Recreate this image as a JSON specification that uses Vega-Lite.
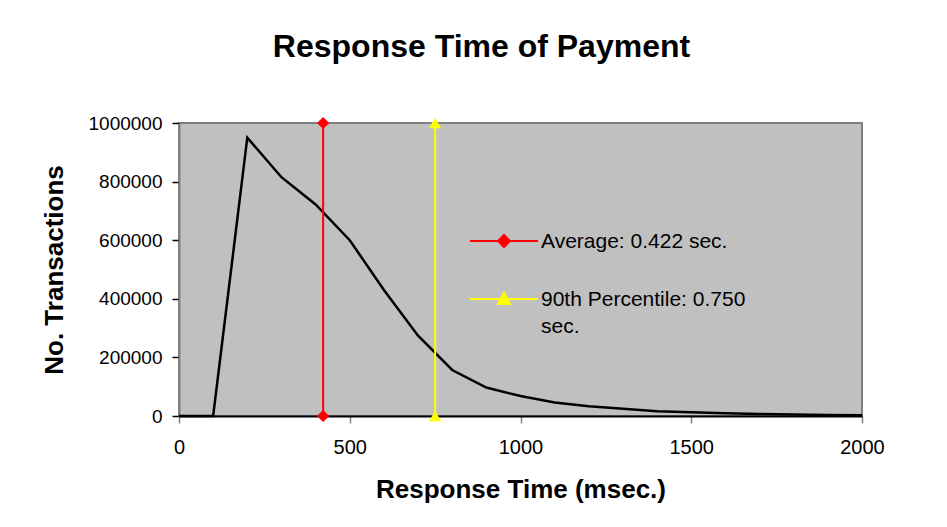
{
  "$schema": "https://vega.github.io/schema/vega-lite/v6.json",
  "width": 683,
  "height": 293,
  "autosize": {"type": "none"},
  "padding": {"left": 179, "top": 123, "right": 85, "bottom": 111},
  "background": "white",
  "title": {
    "text": "Response Time of Payment",
    "font": "Liberation Sans",
    "fontSize": 32,
    "fontWeight": "bold",
    "color": "black",
    "anchor": "middle",
    "dx": -39,
    "offset": 50
  },
  "config": {
    "view": {"fill": "#C0C0C0", "stroke": "#808080", "strokeWidth": 2},
    "font": "Liberation Sans"
  },
  "datasets": {
    "curve": [
      {"ms": 0, "tx": 0},
      {"ms": 100, "tx": 0},
      {"ms": 200, "tx": 950000},
      {"ms": 300, "tx": 815000},
      {"ms": 400, "tx": 722000},
      {"ms": 500, "tx": 600000},
      {"ms": 600, "tx": 430000},
      {"ms": 700, "tx": 274000},
      {"ms": 800, "tx": 157000},
      {"ms": 900, "tx": 97000},
      {"ms": 1000, "tx": 68000},
      {"ms": 1100, "tx": 46000},
      {"ms": 1200, "tx": 33000},
      {"ms": 1300, "tx": 25000},
      {"ms": 1400, "tx": 16000},
      {"ms": 1500, "tx": 13000},
      {"ms": 1600, "tx": 9000},
      {"ms": 1700, "tx": 7000},
      {"ms": 1800, "tx": 5000},
      {"ms": 1900, "tx": 3500},
      {"ms": 2000, "tx": 2500}
    ],
    "markers": [
      {"ms": 422, "tx": 0, "series": "Average: 0.422 sec."},
      {"ms": 422, "tx": 1000000, "series": "Average: 0.422 sec."},
      {"ms": 750, "tx": 0, "series": "90th Percentile: 0.750 sec."},
      {"ms": 750, "tx": 1000000, "series": "90th Percentile: 0.750 sec."}
    ]
  },
  "layer": [
    {
      "data": {"name": "curve"},
      "mark": {"type": "line", "color": "black", "strokeWidth": 2.5},
      "encoding": {
        "x": {
          "field": "ms",
          "type": "quantitative",
          "scale": {"domain": [0, 2000], "nice": false},
          "axis": {
            "title": "Response Time (msec.)",
            "titleFont": "Liberation Sans",
            "titleFontSize": 26,
            "titleFontWeight": "bold",
            "titleColor": "black",
            "titlePadding": 19,
            "values": [0, 500, 1000, 1500, 2000],
            "format": "d",
            "labelFont": "Liberation Sans",
            "labelFontSize": 20,
            "labelColor": "black",
            "labelPadding": 14,
            "labelFlush": false,
            "grid": false,
            "domainColor": "black",
            "domainWidth": 2,
            "tickColor": "#808080",
            "tickWidth": 1.5,
            "tickSize": 7
          }
        },
        "y": {
          "field": "tx",
          "type": "quantitative",
          "scale": {"domain": [0, 1000000], "nice": false},
          "axis": {
            "title": "No. Transactions",
            "titleFont": "Liberation Sans",
            "titleFontSize": 26,
            "titleFontWeight": "bold",
            "titleColor": "black",
            "titlePadding": 21,
            "values": [0, 200000, 400000, 600000, 800000, 1000000],
            "format": "d",
            "labelFont": "Liberation Sans",
            "labelFontSize": 19,
            "labelColor": "black",
            "labelPadding": 10,
            "grid": false,
            "domainColor": "#808080",
            "domainWidth": 2,
            "tickColor": "black",
            "tickWidth": 1.5,
            "tickSize": 7
          }
        }
      }
    },
    {
      "data": {"name": "markers"},
      "mark": {"type": "line", "strokeWidth": 2},
      "encoding": {
        "x": {"field": "ms", "type": "quantitative"},
        "y": {"field": "tx", "type": "quantitative"},
        "detail": {"field": "series"},
        "color": {
          "field": "series",
          "type": "nominal",
          "scale": {
            "domain": ["Average: 0.422 sec.", "90th Percentile: 0.750 sec."],
            "range": ["#FF0000", "#FFFF00"]
          },
          "legend": {
            "orient": "none",
            "legendX": 304,
            "legendY": 97,
            "title": null,
            "padding": 0,
            "symbolSize": 1600,
            "symbolStrokeWidth": 2,
            "rowPadding": 26,
            "labelOffset": 16,
            "labelFont": "Liberation Sans",
            "labelFontSize": 21,
            "labelColor": "black",
            "labelLimit": 400,
            "labelBaseline": "alphabetic",
            "labelExpr": "datum.label == '90th Percentile: 0.750 sec.' ? ['90th Percentile: 0.750', 'sec.'] : datum.label",
            "encode": {
              "symbols": {
                "update": {
                  "shape": {"signal": "datum.value == 'Average: 0.422 sec.' ? 'M-1.7,0H1.7M0,-0.3L0.3,0L0,0.3L-0.3,0Z' : 'M-1.7,0H1.7M0,-0.32L0.3,0.25L-0.3,0.25Z'"},
                  "fill": {"scale": "color", "field": "value"},
                  "stroke": {"scale": "color", "field": "value"},
                  "fillOpacity": {"value": 1},
                  "strokeOpacity": {"value": 1},
                  "opacity": {"value": 1}
                }
              },
              "labels": {
                "update": {
                  "dy": {"value": 7},
                  "lineHeight": {"value": 27}
                }
              }
            }
          }
        }
      }
    },
    {
      "data": {"name": "markers"},
      "transform": [{"filter": "datum.ms == 422"}],
      "mark": {"type": "point", "filled": true, "opacity": 1, "size": 150, "shape": "diamond", "color": "#FF0000"},
      "encoding": {
        "x": {"field": "ms", "type": "quantitative"},
        "y": {"field": "tx", "type": "quantitative"}
      }
    },
    {
      "data": {"name": "markers"},
      "transform": [{"filter": "datum.ms == 750"}],
      "mark": {"type": "point", "filled": true, "opacity": 1, "size": 150, "shape": "triangle-up", "color": "#FFFF00"},
      "encoding": {
        "x": {"field": "ms", "type": "quantitative"},
        "y": {"field": "tx", "type": "quantitative"}
      }
    }
  ]
}
